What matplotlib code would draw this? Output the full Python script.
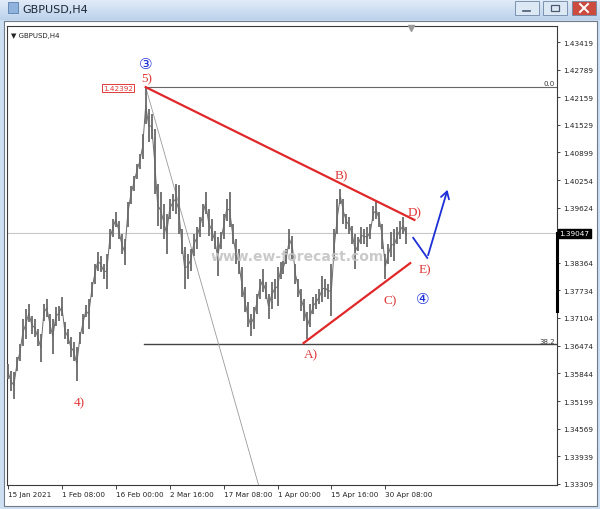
import matplotlib
matplotlib.use("Agg")
import matplotlib.pyplot as plt
import matplotlib.transforms as mtransforms
from matplotlib.patches import Rectangle
import numpy as np

# GBPUSD H4, one column per ~day, high / low
highs = [
    1.3605, 1.3589, 1.3587, 1.3621, 1.3651, 1.3708, 1.3731, 1.3742, 1.3715, 1.3708,
    1.3685, 1.3674, 1.3742, 1.3754, 1.3720, 1.3708, 1.3736, 1.3738, 1.3758, 1.3701,
    1.3685, 1.3667, 1.3655, 1.3644, 1.3678, 1.3720, 1.3740, 1.3754, 1.3793, 1.3834,
    1.3862, 1.3852, 1.3834, 1.3857, 1.3914, 1.3937, 1.3953, 1.3933, 1.3903, 1.3891,
    1.3976, 1.4013, 1.4036, 1.4063, 1.4086, 1.4132, 1.4239, 1.4189, 1.4178, 1.4143,
    1.4017, 1.3999, 1.3971, 1.3949, 1.3983, 1.3994, 1.4017, 1.4015, 1.3914, 1.3873,
    1.3857, 1.3868, 1.3903, 1.3919, 1.3942, 1.3971, 1.3999, 1.3960, 1.3937, 1.3910,
    1.3896, 1.3907, 1.3949, 1.3983, 1.3999, 1.3926, 1.3891, 1.3868, 1.3827, 1.3781,
    1.3747, 1.3720, 1.3736, 1.3765, 1.3800, 1.3823, 1.3793, 1.3765, 1.3793, 1.3800,
    1.3827, 1.3839, 1.3841, 1.3868, 1.3914, 1.3898, 1.3834, 1.3800, 1.3777, 1.3754,
    1.3724, 1.3742, 1.3758, 1.3765, 1.3777, 1.3807, 1.3800, 1.3788, 1.3834, 1.3914,
    1.3983, 1.4006, 1.3983, 1.3949, 1.3942, 1.3921, 1.3903, 1.3896, 1.3919, 1.3914,
    1.3919, 1.3926, 1.3967, 1.3976, 1.3953, 1.3926, 1.3857, 1.3880, 1.3907, 1.3914,
    1.3919, 1.3933, 1.3942, 1.3919,
]
lows = [
    1.3571, 1.3543, 1.3525, 1.3589, 1.3612, 1.3646, 1.3662, 1.3701, 1.3674, 1.3667,
    1.3646, 1.3610, 1.3704, 1.3713, 1.3674, 1.3628, 1.3692, 1.3704, 1.3715, 1.3662,
    1.3651, 1.3621, 1.3612, 1.3566, 1.3651, 1.3674, 1.3713, 1.3685, 1.3758, 1.3788,
    1.3818, 1.3816, 1.3800, 1.3777, 1.3868, 1.3896, 1.3919, 1.3891, 1.3857, 1.3832,
    1.3919, 1.3971, 1.4001, 1.4029, 1.4052, 1.4075, 1.4155, 1.4113, 1.4120, 1.3994,
    1.3921, 1.3914, 1.3891, 1.3857, 1.3937, 1.3955, 1.3949, 1.3903, 1.3857, 1.3777,
    1.3800, 1.3818, 1.3852, 1.3868, 1.3896, 1.3919, 1.3949, 1.3898, 1.3887, 1.3868,
    1.3807, 1.3868, 1.3891, 1.3933, 1.3919, 1.3880, 1.3834, 1.3811, 1.3758, 1.3724,
    1.3690, 1.3669, 1.3685, 1.3720, 1.3754, 1.3770, 1.3754, 1.3708, 1.3731, 1.3754,
    1.3738, 1.3800, 1.3811, 1.3834, 1.3868, 1.3845, 1.3788, 1.3758, 1.3726, 1.3704,
    1.3662, 1.3690, 1.3720, 1.3731, 1.3742, 1.3747, 1.3758, 1.3754, 1.3715, 1.3841,
    1.3903, 1.3971, 1.3926, 1.3914, 1.3903, 1.3880, 1.3823, 1.3864, 1.3880, 1.3880,
    1.3873, 1.3891, 1.3933, 1.3937, 1.3919, 1.3868, 1.3800, 1.3834, 1.3850, 1.3841,
    1.3880, 1.3891, 1.3903, 1.3880,
]

time_labels = ["15 Jan 2021", "1 Feb 08:00", "16 Feb 00:00", "2 Mar 16:00",
               "17 Mar 08:00", "1 Apr 00:00", "15 Apr 16:00", "30 Apr 08:00"]
price_ticks = [1.43419, 1.42789, 1.42159, 1.41529, 1.40899, 1.40254, 1.39624,
               1.38364, 1.37734, 1.37104, 1.36474, 1.35844, 1.35199, 1.34569,
               1.33939, 1.33309]
last_price = 1.39047
peak_price = 1.42392
fib_382 = 1.3650

# elliott wave triangle: (column, price)
upper_line = [(46, 1.4239), (135.7, 1.3935)]
lower_line = [(98.7, 1.3653), (134.3, 1.3836)]
blue_path = [(135.3, 1.3894), (140.0, 1.3848), (147.0, 1.4010)]
wave_labels = [("5)", 46.3, 1.4260), ("B)", 111.3, 1.4038), ("D)", 135.7, 1.3953),
               ("E)", 139.3, 1.3823), ("C)", 127.7, 1.3752), ("A)", 101.3, 1.3628),
               ("4)", 24.0, 1.3518)]
circle_labels = [("\u2462", 46.0, 1.4294), ("\u2463", 138.3, 1.3756)]

W, H = 600, 510
fig = plt.figure(figsize=(W / 100, H / 100), dpi=100)
fig.patch.set_facecolor("#cfdff2")

# window chrome in pixel coords
bg = fig.add_axes([0, 0, 1, 1])
bg.set_xlim(0, W)
bg.set_ylim(H, 0)
bg.axis("off")
grad = np.linspace(0, 1, 20).reshape(-1, 1)
cmap = matplotlib.colors.LinearSegmentedColormap.from_list("tb", ["#e3ecf8", "#bcd2ec"])
bg.imshow(grad, extent=(0, W, 21, 0), cmap=cmap, aspect="auto")
bg.add_patch(Rectangle((4, 22), 593, 485, facecolor="white", edgecolor="#6f7b8a", lw=0.8))
bg.add_patch(Rectangle((8, 3), 10, 11, facecolor="#8fb3dd", edgecolor="#5a7fae", lw=0.6))
bg.text(22, 10, "GBPUSD,H4", fontsize=8, color="#1b2636", va="center")
for x0, fc in [(515, "#dde8f5"), (543, "#dde8f5"), (572, "#cc4a3e")]:
    bg.add_patch(Rectangle((x0, 2), 24, 14, facecolor=fc, edgecolor="#6d86a6", lw=0.6))
bg.plot([523, 530], [12, 12], color="#4a5a70", lw=1.2)
bg.add_patch(Rectangle((551, 6), 8, 6, facecolor="none", edgecolor="#4a5a70", lw=0.9))
bg.plot([580, 588], [5, 13], color="white", lw=1.4)
bg.plot([580, 588], [13, 5], color="white", lw=1.4)

ax = fig.add_axes([7 / W, 1 - 486 / H, 550 / W, 459 / H])
ax.set_facecolor("white")
x = np.arange(len(highs))
hi = np.array(highs)
lo = np.array(lows)

ax.axhline(last_price, color="#c8c8c8", lw=0.8, zorder=1)
ax.vlines(x, lo, hi, color="#6a6a6a", lw=1.3, zorder=3)
ax.plot(x, (hi + lo) / 2, color="#6a6a6a", lw=0.7, zorder=3)

ax.plot([46, 184], [peak_price, peak_price], color="#666666", lw=0.8, zorder=2)
ax.plot([45.5, 184], [fib_382, fib_382], color="#444444", lw=1.0, zorder=2)
ax.text(182.5, peak_price + 0.0002, "0.0", fontsize=5, ha="right", va="bottom", color="#333333")
ax.text(182.5, fib_382 + 0.0002, "38.2", fontsize=5, ha="right", va="bottom", color="#333333")
ax.plot([46, 84], [peak_price, 1.3320], color="#9a9a9a", lw=0.6, zorder=2)

ax.text(36.7, 1.4237, "1.42392", fontsize=5.2, color="#e03a3a", ha="center", va="center",
        bbox=dict(boxstyle="square,pad=0.15", fc="white", ec="#e03a3a", lw=0.7), zorder=5)

ax.text(96.7, 1.3852, "www.ew-forecast.com", fontsize=10, fontweight="bold",
        color="#c4c4c4", alpha=0.9, ha="center", va="center", zorder=4)

red = "#e0282a"
ax.plot(*zip(*upper_line), color=red, lw=1.6, zorder=5)
ax.plot(*zip(*lower_line), color=red, lw=1.6, zorder=5)
blue = "#1c2fd6"
ax.plot(*zip(*blue_path[:2]), color=blue, lw=1.3, zorder=5)
ax.annotate("", xy=blue_path[2], xytext=blue_path[1],
            arrowprops=dict(arrowstyle="->,head_length=0.5,head_width=0.3", color=blue, lw=1.3),
            zorder=5)

for txt, cx, cy in wave_labels:
    ax.text(cx, cy, txt, fontsize=9.5, color="#e03838", family="Liberation Serif",
            ha="center", va="center", zorder=6)
for txt, cx, cy in circle_labels:
    ax.text(cx, cy, txt, fontsize=11, color=blue, family="DejaVu Sans",
            ha="center", va="center", zorder=6)

ax.set_xlim(-0.3, 183.3)
ax.set_ylim(1.3328, 1.4379)
ax.set_xticks(np.arange(0, 18 * len(time_labels), 18))
ax.set_xticklabels(time_labels)
for lbl in ax.get_xticklabels():
    lbl.set_horizontalalignment("left")
ax.tick_params(axis="x", length=3, width=0.6, labelsize=5.2, pad=1.5, colors="#222222")
ax.yaxis.tick_right()
ax.set_yticks(price_ticks)
ax.set_yticklabels([f"{p:.5f}" for p in price_ticks])
ax.tick_params(axis="y", length=2.5, width=0.6, labelsize=5.2, pad=2, colors="#222222")
for s in ax.spines.values():
    s.set_color("#3a3a3a")
    s.set_linewidth(0.8)

trans = mtransforms.blended_transform_factory(ax.transAxes, ax.transData)
ax.plot([1.0, 1.0], [last_price, 1.3726], transform=trans, color="black", lw=2.2,
        clip_on=False, zorder=7)
ax.text(1.004, last_price, "1.39047", transform=trans, fontsize=5.2, color="white",
        ha="left", va="center", bbox=dict(boxstyle="square,pad=0.2", fc="black", ec="black"),
        clip_on=False, zorder=8)

ax.plot([0.735], [0.995], transform=ax.transAxes, marker="v", ms=4, color="#9a9a9a",
        clip_on=False, zorder=8)
ax.text(0.008, 0.988, "\u25bc GBPUSD,H4", transform=ax.transAxes, fontsize=5,
        color="#222222", ha="left", va="top")

fig.savefig("out.png", dpi=100, facecolor=fig.get_facecolor())
